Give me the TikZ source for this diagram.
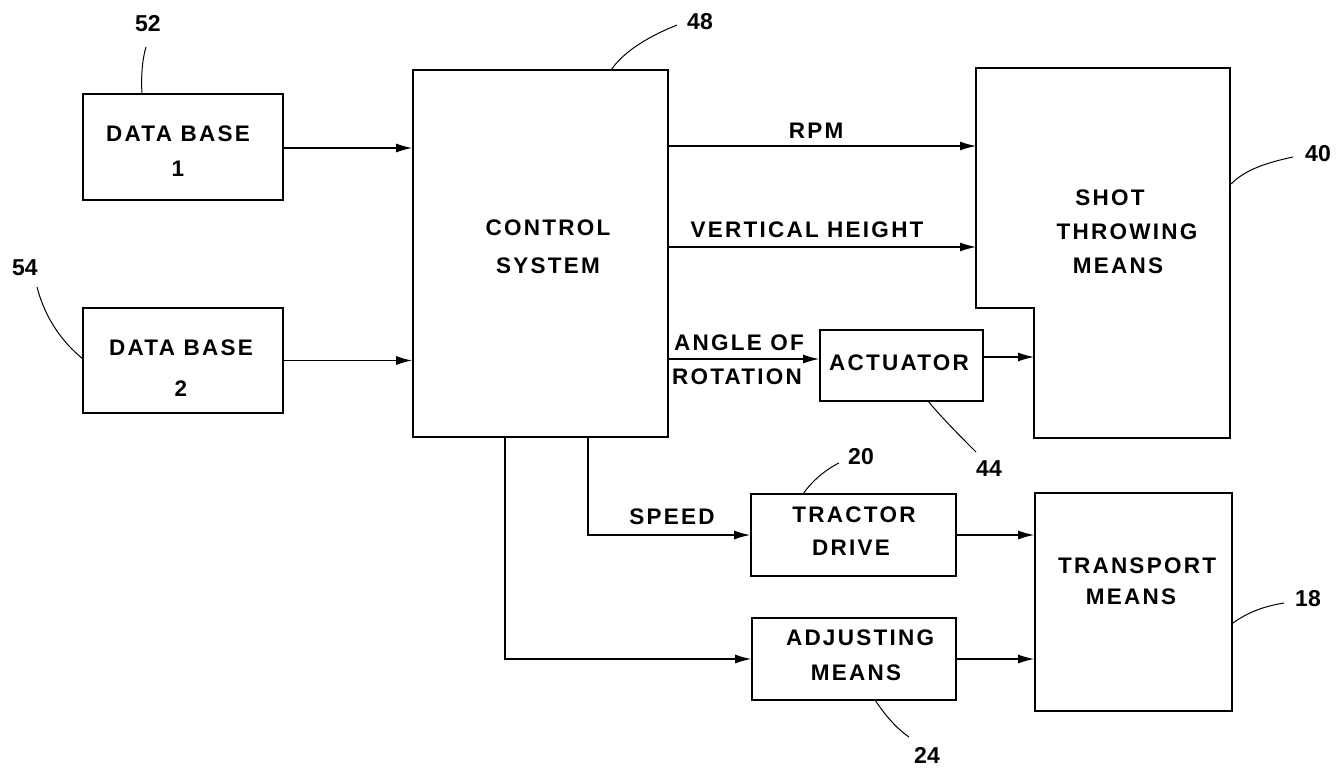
\documentclass[tikz,border=0pt]{standalone}
\usepackage{fontspec}
\setmainfont{Liberation Sans}
\newfontfamily\hand[LetterSpace=10]{Liberation Sans}
\usetikzlibrary{arrows.meta,calc}
\begin{document}
\begin{tikzpicture}[x=1pt,y=-1pt,
  box/.style={draw,line width=1.8pt,inner sep=0pt,minimum width=#1},
  txt/.style={font=\hand\bfseries\fontsize{22.5}{22.5}\selectfont,inner sep=0pt,text height=16pt,text depth=0pt},
  num/.style={font=\bfseries\fontsize{23}{23}\selectfont,inner sep=0pt,text height=16.5pt,text depth=0pt},
  conn/.style={line width=1.2pt},
  arr/.style={line width=1.2pt,-{Latex[length=16pt,width=9pt]}},
  lead/.style={line width=1pt}]
\useasboundingbox (0,0) rectangle (1343,768);
\fill[white] (0,0) rectangle (1343,768);

% boxes
\node[box=200pt,minimum height=106pt] (db1) at (183,147) {};
\node[box=200pt,minimum height=105pt] (db2) at (183,360.5) {};
\node[box=255pt,minimum height=367pt] (ctrl) at (540.5,253.5) {};
\node[box=163pt,minimum height=71pt] (act) at (901.5,365.5) {};
\node[box=205pt,minimum height=82pt] (trac) at (853.5,535) {};
\node[box=204pt,minimum height=82pt] (adj) at (854,659) {};
\node[box=197pt,minimum height=218pt] (trans) at (1133.5,602) {};

% shot throwing means (notched outline)
\coordinate (shotTL) at (976,68);
\coordinate (shotTR) at (1230,68);
\coordinate (shotBR) at (1230,438);
\coordinate (shotBL) at (1034,438);
\coordinate (notch) at (1034,308);
\coordinate (notchL) at (976,308);
\draw[line width=1.8pt,line join=miter] (shotTL) -- (shotTR) -- (shotBR) -- (shotBL) -- (notch) -- (notchL) -- cycle;

% texts
\node[txt] (t1a) at (178,133) {DATA BASE};
\node[txt] (t1b) at (178,168) {1};
\node[txt] (t2a) at (181,347) {DATA BASE};
\node[txt] (t2b) at (181,388) {2};
\node[txt] (tc1) at (548,227) {CONTROL};
\node[txt] (tc2) at (548,265) {SYSTEM};
\node[txt] (trpm) at (816,130) {RPM};
\node[txt] (tvh) at (807,229) {VERTICAL HEIGHT};
\node[txt] (tang) at (739,342) {ANGLE OF};
\node[txt] (trot) at (737,376) {ROTATION};
\node[txt] (tact) at (899,362) {ACTUATOR};
\node[txt] (ts1) at (1110,197) {SHOT};
\node[txt] (ts2) at (1127,231) {THROWING};
\node[txt] (ts3) at (1118,265) {MEANS};
\node[txt] (tspd) at (672,516) {SPEED};
\node[txt] (ttr1) at (854,514) {TRACTOR};
\node[txt] (ttr2) at (851,547) {DRIVE};
\node[txt] (tad1) at (860,637) {ADJUSTING};
\node[txt] (tad2) at (856,672) {MEANS};
\node[txt] (ttp1) at (1137,565) {TRANSPORT};
\node[txt] (ttp2) at (1131,596) {MEANS};

% connectors
\draw[arr] (db1.east |- 0,148) -- (ctrl.west |- 0,148);
\draw[arr] (db2.east) -- (db2.east -| ctrl.west);
\draw[arr] (ctrl.east |- 0,146) -- (shotTL |- 0,146);
\draw[arr] (ctrl.east |- 0,247) -- (shotTL |- 0,247);
\draw[arr] (ctrl.east |- 0,359) -- (act.west |- 0,359);
\draw[arr] (act.east |- 0,357) -- (notch |- 0,357);
\draw[arr] (ctrl.south -| 588,0) |- (trac.west);
\draw[arr] (ctrl.south -| 505,0) |- (adj.west);
\draw[arr] (trac.east) -- (trac.east -| trans.west);
\draw[arr] (adj.east) -- (adj.east -| trans.west);

% reference numerals
\node[num] (n52) at (148,23) {52};
\node[num] (n54) at (25,267) {54};
\node[num] (n48) at (700,21) {48};
\node[num] (n40) at (1318,153) {40};
\node[num] (n44) at (989,468) {44};
\node[num] (n20) at (861,456) {20};
\node[num] (n24) at (927,755) {24};
\node[num] (n18) at (1308,598) {18};

\coordinate (l52a) at (142,94);   \coordinate (l52b) at (146,47);
\coordinate (l54a) at (83,359);   \coordinate (l54b) at (37,287);
\coordinate (l48a) at (611,70);   \coordinate (l48b) at (677,25);
\coordinate (l40a) at (1231,184); \coordinate (l40b) at (1293,157);
\coordinate (l44a) at (928,401);  \coordinate (l44b) at (976,452);
\coordinate (l20a) at (803,494);  \coordinate (l20b) at (839,463);
\coordinate (l24a) at (875,700);  \coordinate (l24b) at (909,737);
\coordinate (l18a) at (1233,623); \coordinate (l18b) at (1284,603);

\draw[lead] (l52a) .. controls (141,78) and (142,60) .. (l52b);
\draw[lead] (l54a) .. controls (62,342) and (45,318) .. (l54b);
\draw[lead] (l48a) .. controls (625,50) and (650,36) .. (l48b);
\draw[lead] (l40a) .. controls (1245,170) and (1265,163) .. (l40b);
\draw[lead] (l44a) .. controls (942,418) and (960,436) .. (l44b);
\draw[lead] (l20a) .. controls (812,481) and (825,470) .. (l20b);
\draw[lead] (l24a) .. controls (885,715) and (896,728) .. (l24b);
\draw[lead] (l18a) .. controls (1248,612) and (1265,606) .. (l18b);
\end{tikzpicture}
\end{document}
